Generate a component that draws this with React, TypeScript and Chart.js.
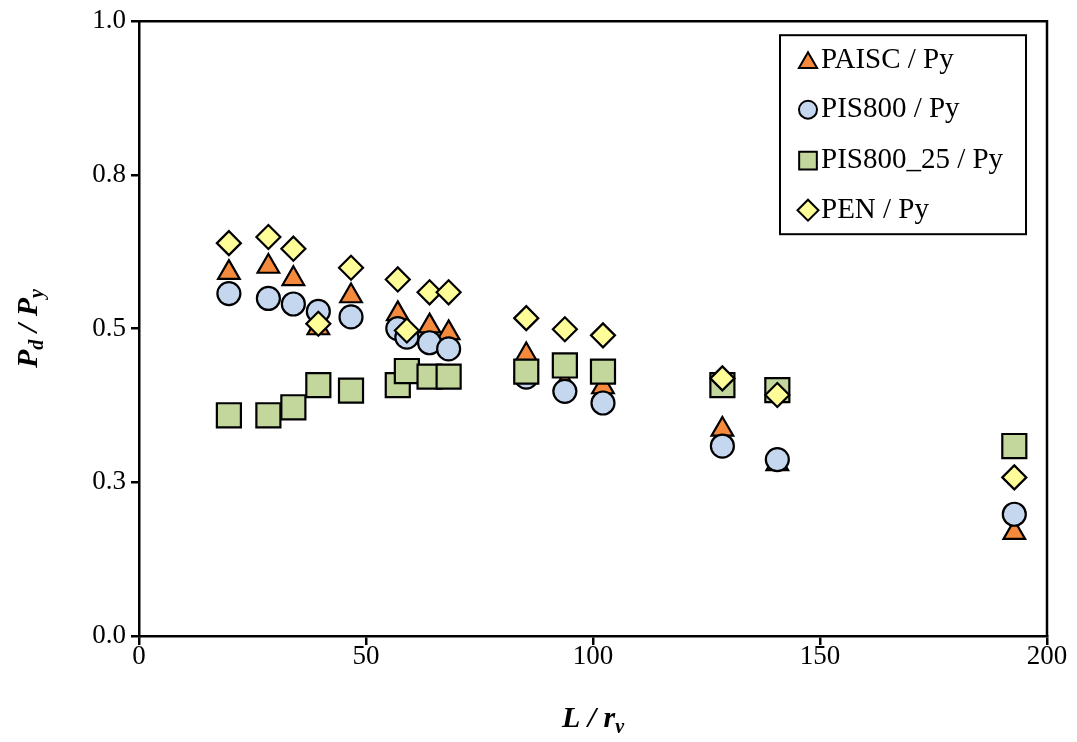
import React, { useEffect, useRef } from 'react';
import { Chart, registerables } from 'chart.js';
import { drawPoint } from 'chart.js/helpers';

Chart.register(...registerables);

// Slenderness ratio L / r_v (shared by all series)
const slenderness = [19.8, 28.5, 34.0, 39.5, 46.7, 57.0, 59.0, 64.0, 68.2, 85.3, 93.8, 102.2, 128.5, 140.6, 192.8];
// Normalised strengths Pd / Py
const paiscValues = [0.591, 0.601, 0.581, 0.501, 0.553, 0.524, 0.497, 0.504, 0.493, 0.457, 0.410, 0.405, 0.336, 0.280, 0.168];
const pis800Values = [0.557, 0.549, 0.540, 0.528, 0.519, 0.500, 0.486, 0.477, 0.467, 0.421, 0.398, 0.379, 0.309, 0.287, 0.198];
const pis80025Values = [0.359, 0.359, 0.372, 0.408, 0.399, 0.408, 0.431, 0.422, 0.422, 0.430, 0.440, 0.430, 0.408, 0.400, 0.309];
const penValues = [0.639, 0.649, 0.630, 0.508, 0.599, 0.580, 0.497, 0.559, 0.559, 0.517, 0.499, 0.489, 0.419, 0.392, 0.258];

const seriesLabels = ['PAISC / Py', 'PIS800 / Py', 'PIS800_25 / Py', 'PEN / Py'];
const xTicks = { min: 0, max: 200, step: 50 };
const yTicks = { min: 0, max: 1, step: 0.25 };

const FONT = '"Liberation Serif", "Times New Roman", serif';

const styles = [
  { pointStyle: 'triangle', color: '#F58A3C', radius: 12.5, legendRadius: 10.5 },
  { pointStyle: 'circle', color: '#C5D7EF', radius: 11.5, legendRadius: 9 },
  { pointStyle: 'rect', color: '#C3D69B', radius: 17, legendRadius: 12.5 },
  { pointStyle: 'rectRot', color: '#FFFD98', radius: 12, legendRadius: 10.5 },
];

const seriesValues = [paiscValues, pis800Values, pis80025Values, penValues];

function drawRich(ctx: CanvasRenderingContext2D, parts: { t: string; sub?: boolean }[], cx: number, cy: number) {
  const mainFont = `italic bold 30px ${FONT}`;
  const subFont = `italic bold 20px ${FONT}`;
  let total = 0;
  const widths = parts.map((p) => {
    ctx.font = p.sub ? subFont : mainFont;
    const w = ctx.measureText(p.t).width;
    total += w;
    return w;
  });
  let x = cx - total / 2;
  ctx.textBaseline = 'alphabetic';
  ctx.textAlign = 'left';
  parts.forEach((p, i) => {
    ctx.font = p.sub ? subFont : mainFont;
    ctx.fillText(p.t, x, cy + (p.sub ? 6 : 0));
    x += widths[i];
  });
}

const decorPlugin = {
  id: 'decor',
  beforeDatasetsDraw(chart: any) {
    const { ctx, chartArea } = chart;
    ctx.save();
    ctx.strokeStyle = '#000';
    ctx.lineWidth = 2.5;
    ctx.beginPath();
    ctx.moveTo(chartArea.left, chartArea.top);
    ctx.lineTo(chartArea.right, chartArea.top);
    ctx.lineTo(chartArea.right, chartArea.bottom);
    ctx.stroke();
    ctx.restore();
  },
  afterDraw(chart: any) {
    const { ctx, chartArea } = chart;
    ctx.save();
    // Legend box inside plot area
    const left = chartArea.right - 267;
    const top = chartArea.top + 14;
    const w = 246;
    const h = 199;
    ctx.fillStyle = '#fff';
    ctx.fillRect(left, top, w, h);
    ctx.strokeStyle = '#000';
    ctx.lineWidth = 2;
    ctx.strokeRect(left, top, w, h);
    const rowY = [25.5, 74.5, 125.5, 175];
    chart.data.datasets.forEach((ds: any, i: number) => {
      const st = styles[i];
      const y = top + rowY[i];
      ctx.fillStyle = st.color;
      ctx.strokeStyle = '#000';
      ctx.lineWidth = 2;
      drawPoint(ctx, { pointStyle: st.pointStyle as any, radius: st.legendRadius, borderWidth: 2, rotation: 0 }, left + 28, y + (st.pointStyle === 'triangle' ? 2 : 0));
      ctx.fillStyle = '#000';
      ctx.font = `29px ${FONT}`;
      ctx.textAlign = 'left';
      ctx.textBaseline = 'middle';
      ctx.fillText(ds.label, left + 41, y);
    });
    // Axis titles
    ctx.fillStyle = '#000';
    drawRich(ctx, [{ t: 'L / r' }, { t: 'v', sub: true }], (chartArea.left + chartArea.right) / 2, 727);
    ctx.save();
    ctx.translate(37, (chartArea.top + chartArea.bottom) / 2);
    ctx.rotate(-Math.PI / 2);
    drawRich(ctx, [{ t: 'P' }, { t: 'd', sub: true }, { t: ' / P' }, { t: 'y', sub: true }], 0, 0);
    ctx.restore();
    ctx.restore();
  },
};

export default function App() {
  const ref = useRef<HTMLCanvasElement | null>(null);
  useEffect(() => {
    if (!ref.current) return;
    const datasets = seriesValues.map((vals, i) => ({
      label: seriesLabels[i],
      data: slenderness.map((x, j) => ({ x, y: vals[j] })),
      pointStyle: styles[i].pointStyle,
      pointRadius: styles[i].radius,
      pointHoverRadius: styles[i].radius,
      backgroundColor: styles[i].color,
      borderColor: '#000',
      borderWidth: 2.2,
      showLine: false,
      order: 4 - i,
    }));
    const chart = new Chart(ref.current, {
      type: 'scatter',
      data: { datasets } as any,
      options: {
        animation: false,
        responsive: true,
        maintainAspectRatio: false,
        events: [],
        layout: { padding: { top: 17, right: 30, left: 0, bottom: 0 } },
        plugins: { legend: { display: false }, tooltip: { enabled: false } },
        scales: {
          x: {
            type: 'linear',
            min: xTicks.min,
            max: xTicks.max,
            ticks: { stepSize: xTicks.step, color: '#000', font: { family: FONT, size: 27 }, padding: -4 },
            grid: { drawOnChartArea: false, color: '#000', lineWidth: 2.5, tickLength: 9 },
            border: { display: true, color: '#000', width: 2.5 },
            afterFit: (s: any) => { s.height = 106; },
          },
          y: {
            type: 'linear',
            min: yTicks.min,
            max: yTicks.max,
            ticks: {
              stepSize: yTicks.step,
              color: '#000',
              font: { family: FONT, size: 27 },
              padding: 5,
              callback: (v: any) => Number(v).toFixed(1),
            },
            grid: { drawOnChartArea: false, color: '#000', lineWidth: 2.5, tickLength: 8 },
            border: { display: true, color: '#000', width: 2.5 },
            afterFit: (s: any) => { s.width = 139; },
          },
        },
      } as any,
      plugins: [decorPlugin],
    });
    return () => chart.destroy();
  }, []);
  return (
    <div style={{ position: 'fixed', left: 0, top: 0, width: 1077, height: 742, background: '#fff' }}>
      <canvas ref={ref} />
    </div>
  );
}
